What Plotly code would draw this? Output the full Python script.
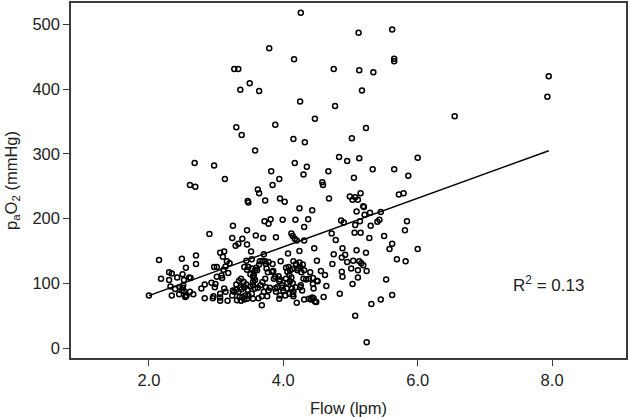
import plotly.graph_objects as go

# flow (lpm) and paO2 (mmHg)
flow = [
    4.26, 5.12, 5.62, 3.79, 4.16, 5.65, 5.65, 3.27, 3.33, 4.75, 5.13, 5.34, 7.95, 3.50, 3.36, 3.64,
    5.17, 7.93, 4.25, 4.77, 6.55, 4.47, 3.88, 3.30, 5.23, 3.38, 4.15, 4.32, 5.02, 3.58, 2.68, 2.97,
    4.17, 4.83, 4.95, 5.13, 6.00, 4.35, 3.82, 4.30, 4.67, 5.33, 5.65, 5.05, 5.86, 3.13, 3.94, 2.61,
    2.69, 3.62, 3.64, 3.84, 4.58, 4.59, 3.47, 3.48, 3.73, 3.95, 4.02, 4.68, 4.99, 5.03, 5.07, 5.11,
    5.15, 5.19, 5.20, 5.72, 5.79, 5.09, 4.24, 4.43, 5.21, 5.29, 5.45, 3.72, 3.78, 3.81, 3.99, 4.18,
    4.37, 4.86, 4.90, 5.14, 5.40, 5.43, 5.84, 5.07, 5.30, 3.25, 4.31, 3.46, 5.81, 2.90, 5.06, 5.15,
    4.72,
    4.12, 4.14, 4.17, 4.20, 3.24, 3.39, 3.59, 3.70, 3.89, 4.31, 4.78, 5.28, 5.50, 3.29, 3.33, 3.46,
    5.62, 5.58, 6.00, 4.88, 5.09, 3.06, 3.12, 3.52, 3.71, 4.24, 4.46, 4.07, 4.75, 4.92, 4.87, 5.23,
    3.10,
    2.15, 2.49, 2.70, 2.70, 3.16, 3.20, 3.53, 3.45, 3.65, 3.69, 3.73, 3.78, 3.84, 3.96, 4.15, 4.19,
    4.24, 4.29, 4.50, 4.73, 4.95, 5.04, 5.13, 5.16, 5.19, 5.69, 5.82,
    2.97, 3.01, 2.55, 2.30, 2.34, 2.42, 2.50, 2.60, 2.62, 2.18, 2.30, 2.52, 2.93, 2.99, 3.01, 3.08,
    3.11, 3.14, 3.09, 3.18,
    3.42, 3.46, 3.48, 3.51, 3.55, 3.56, 3.58, 3.60, 3.64, 3.61, 3.53, 3.74, 3.75, 3.77, 3.83, 3.85,
    3.88, 3.93, 3.95, 4.04, 4.08, 4.10, 4.13, 4.12, 4.06, 4.09, 4.04, 4.06, 4.10,
    4.22, 4.25, 4.31, 4.21, 4.27, 4.30, 4.34, 4.38, 4.40, 4.44, 4.51, 4.56, 4.62, 4.87, 4.88, 5.01,
    5.11, 5.11, 5.24, 5.53,
    3.56, 3.58, 3.73, 3.69, 3.86, 3.94, 3.30, 3.34, 3.37, 3.41, 3.45, 3.55, 4.50, 4.44,
    2.00, 2.34, 2.45, 2.55, 2.61, 2.66, 2.78, 2.83, 2.83, 2.96, 2.95, 3.06, 3.06, 3.12, 3.14, 3.17,
    2.32, 2.39, 2.46, 2.49, 2.50, 2.52, 2.56, 2.54, 2.51, 2.98, 3.06,
    3.36, 3.30, 3.27, 3.33, 3.38, 3.42, 3.47, 3.51, 3.53, 3.48, 3.43, 3.39, 3.35, 3.31, 3.37, 3.42,
    3.46, 3.55, 3.58, 3.24, 3.25,
    3.55, 3.62, 3.66, 3.74, 3.78, 3.80, 3.71, 3.68, 3.63, 3.76, 3.68, 3.91, 3.88, 3.89, 3.95, 3.94,
    3.98, 3.98, 4.00, 4.05, 4.09, 4.14, 4.15, 4.13, 4.18, 4.14, 4.03, 4.15, 4.26,
    4.20, 4.31, 4.28, 4.25, 4.41, 4.47, 4.45, 4.45, 4.64, 4.60, 4.38, 4.43, 4.49,
    4.84, 5.62, 5.45, 5.31, 5.07, 5.24, 5.03,
]
pao2 = [
    518, 487, 492, 463, 446, 447, 443, 431, 431, 431, 429, 426, 420, 409, 399, 397,
    398, 388, 381, 374, 358, 354, 345, 341, 340, 329, 323, 318, 324, 305, 286, 282,
    286, 295, 289, 293, 294, 280, 273, 268, 273, 276, 276, 263, 266, 261, 261, 252,
    249, 245, 239, 252, 256, 252, 227, 225, 228, 231, 226, 231, 234, 229, 233, 229,
    239, 219, 218, 237, 239, 211, 216, 213, 206, 209, 210, 196, 192, 199, 198, 198,
    199, 197, 194, 196, 195, 198, 196, 190, 189, 189, 187, 182, 182, 176, 178, 178,
    177,
    177, 173, 169, 166, 170, 169, 174, 170, 171, 166, 167, 170, 173, 158, 161, 160,
    161, 153, 153, 154, 151, 147, 149, 149, 145, 150, 154, 146, 145, 144, 140, 147,
    141,
    136, 138, 143, 130, 134, 131, 137, 135, 134, 135, 134, 133, 130, 134, 134, 130,
    132, 129, 135, 130, 133, 135, 134, 131, 128, 137, 134,
    125, 125, 124, 117, 115, 109, 114, 109, 108, 107, 105, 105, 101, 99, 110, 112,
    121, 126, 108, 116,
    125, 121, 125, 114, 111, 108, 120, 124, 129, 120, 123, 130, 123, 117, 118, 119,
    110, 111, 106, 124, 125, 120, 122, 109, 118, 113, 107, 101, 103,
    123, 125, 120, 120, 117, 107, 106, 107, 117, 108, 103, 119, 113, 118, 110, 123,
    120, 109, 119, 106,
    113, 105, 107, 102, 107, 103, 98, 104, 107, 102, 98, 102, 104, 99,
    81, 81, 83, 80, 87, 83, 92, 98, 77, 80, 77, 78, 73, 92, 87, 73,
    95, 91, 94, 89, 93, 88, 81, 79, 97, 94, 84,
    94, 90, 87, 87, 91, 94, 90, 95, 84, 81, 81, 79, 79, 74, 73, 75,
    76, 76, 92, 81, 89,
    97, 93, 97, 94, 89, 93, 87, 80, 77, 80, 66, 94, 92, 87, 81, 76,
    93, 97, 89, 92, 84, 83, 87, 92, 94, 100, 81, 80, 97,
    70, 75, 89, 94, 75, 72, 77, 92, 96, 79, 76, 78, 71,
    84, 82, 75, 68, 50, 9, 99,
]

# fitted line as printed on the chart
fit_intercept = 5.8
fit_slope = 37.6
r_squared = 0.13

x_ticks = [2, 4, 6, 8]
y_ticks = [0, 100, 200, 300, 400, 500]

font_family = "Liberation Sans, Arial, sans-serif"
axis_color = "#3c3c3c"

fig = go.Figure()
fig.add_trace(go.Scatter(x=flow, y=pao2, mode="markers",
                         marker=dict(symbol="circle-open", size=5, color="black",
                                     line=dict(width=1.5)),
                         showlegend=False))

line_x = [min(flow), max(flow)]
line_y = [fit_intercept + fit_slope * v for v in line_x]
fig.add_trace(go.Scatter(x=line_x, y=line_y, mode="lines",
                         line=dict(color="black", width=1.5), showlegend=False))

fig.add_annotation(x=7.95, y=99, text=f"R<sup>2</sup> = {r_squared:.2f}",
                   showarrow=False, font=dict(size=17, color="#222"))

axis_common = dict(showline=True, linecolor=axis_color, linewidth=1.5, mirror=True,
                   ticks="outside", ticklen=6, tickcolor=axis_color, tickwidth=1,
                   showgrid=False, zeroline=False,
                   tickfont=dict(size=16.5, color="#222"))

fig.update_xaxes(range=[0.84, 9.10], tickvals=x_ticks, tickformat=".1f",
                 title=dict(text="Flow (lpm)", font=dict(size=16.5, color="#222"), standoff=15),
                 **axis_common)
fig.update_yaxes(range=[-15.4, 533], tickvals=y_ticks,
                 title=dict(text="p<sub>a</sub>O<sub>2</sub> (mmHg)",
                            font=dict(size=16.5, color="#222"), standoff=11),
                 **axis_common)

fig.update_layout(width=630, height=417,
                  margin=dict(l=71, r=4, t=3, b=59, autoexpand=False),
                  plot_bgcolor="white", paper_bgcolor="white",
                  font=dict(family=font_family, color="#222"))

# page body has a default 8px margin; drop it so the figure sits at the window corner
fig.write_html("out.html", config={"displayModeBar": False},
               post_script="document.body.style.margin='0';")
